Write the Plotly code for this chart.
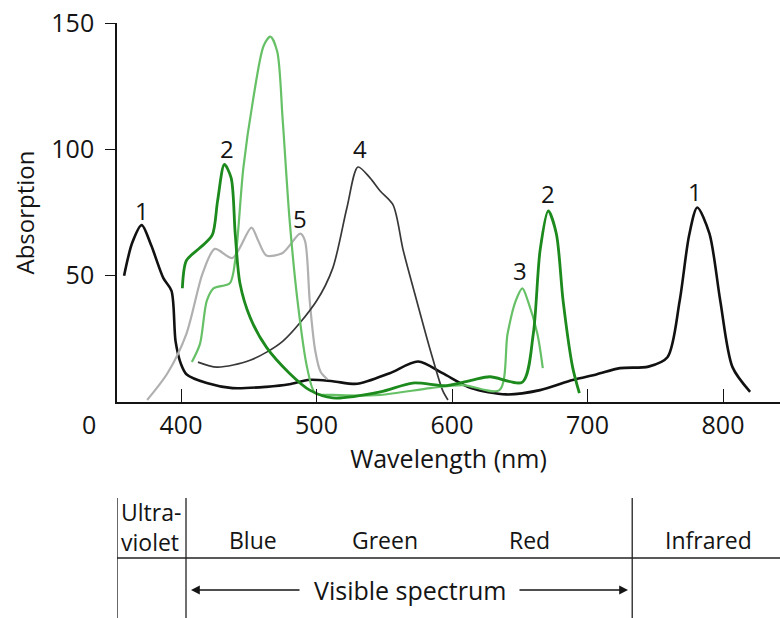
import plotly.graph_objects as go

# ---------------- data ----------------
c1_nm = [358, 364, 371, 378, 387, 393, 396, 400, 404, 419, 438, 463, 480, 495, 512, 530, 554, 575, 593, 614, 640, 665, 689, 707, 724, 745, 759, 768, 775, 781, 790, 798, 807, 820]
c1_ab = [50, 63, 70, 62, 49, 44, 24, 15, 11, 7.5, 5.5, 6, 7, 8.8, 8.2, 7.2, 11.4, 16, 11.4, 5.5, 3, 4.7, 8.7, 11, 13.4, 14, 17.7, 40, 66, 77, 66.6, 40, 13.8, 4]

c2_nm = [401, 404, 414, 423, 427, 432, 437, 440, 443.5, 451, 463, 480, 495, 512, 547, 571, 596, 615, 628, 652, 660, 665, 671, 677, 682, 689, 694]
c2_ab = [45, 56, 61, 66, 79.6, 94, 88.7, 66.6, 47, 33.5, 21.7, 11.4, 4.7, 1.6, 4, 7.5, 6.5, 8.7, 10, 7.9, 27, 60, 75.6, 66.6, 40, 13.8, 3.5]

c3_nm = [408, 414, 419, 424, 436, 440, 446, 453, 461, 466, 471, 475, 480, 486, 493, 499, 512, 547, 584, 608, 635, 641, 647, 652, 656, 663, 667]
c3_ab = [15.8, 23, 40, 45, 47, 56, 92.6, 119, 141, 144.6, 138.7, 112, 73, 40, 13.8, 3.5, 2.8, 2.8, 5.5, 6.7, 4.7, 27, 40, 45, 40, 27, 13.4]

c4_nm = [412.5, 426.6, 451, 475, 500, 512, 522.5, 530.6, 539.5, 547, 556.5, 564, 574, 584, 593, 597]
c4_ab = [15.8, 13.8, 16.5, 24, 40, 53, 77, 93, 88.7, 83.5, 78, 60, 40, 20.5, 4.7, 0.8]

c5_nm = [375, 390, 404, 416, 425, 438, 452, 457, 463, 475, 488, 491.5, 495, 499, 503, 508]
c5_ab = [0.8, 11.4, 27, 51, 60.6, 57, 69, 63.8, 58, 59, 66.6, 63.8, 40, 20.5, 12, 9]

curve_labels = ["1", "2", "3", "4", "5", "3", "2", "1"]
label_nm = [371, 434, 467, 532, 488, 650, 671, 779]
label_ab = [75.6, 100.5, 151, 100.5, 72.5, 52, 82.7, 83.5]

x_ticks = [400, 500, 600, 700, 800]
y_ticks = [50, 100, 150]
region_names = ["Blue", "Green", "Red", "Infrared"]
region_nm = [453, 550.5, 657, 789]
uv_label = "Ultra-<br>violet"
region_bounds = [352.8, 403.7, 733]

# ---------------- layout helpers ----------------
# the page body margin is removed (post_script), so figure pixels == window pixels
W, H = 780, 618
AX_LEFT, AX_TOP, AX_BOTTOM, AX_RIGHT = 117, 23, 402, 780   # pixels of the plot area
plot_h = AX_BOTTOM - AX_TOP
plot_w = AX_RIGHT - AX_LEFT


def py(pix_y):
    """pixel row -> paper y"""
    return (AX_BOTTOM - pix_y) / plot_h


def px(pix_x):
    """pixel column -> paper x"""
    return (pix_x - AX_LEFT) / plot_w


def nm(pix_x):
    """pixel column -> wavelength"""
    return 400 + (pix_x - 181) * 0.738


FONT = "Open Sans"
INK = "#141414"

fig = go.Figure()
curves = [
    (c1_nm, c1_ab, "#111111", 2.6),
    (c5_nm, c5_ab, "#b0b0b0", 2.2),
    (c4_nm, c4_ab, "#383838", 1.7),
    (c3_nm, c3_ab, "#66c066", 2.2),
    (c2_nm, c2_ab, "#1c8a1c", 2.8),
]
for xs, ys, col, w in curves:
    fig.add_trace(go.Scatter(x=xs, y=ys, mode="lines",
                             line=dict(color=col, width=w, shape="spline", smoothing=0.8),
                             showlegend=False, hoverinfo="skip"))

for t, x, y in zip(curve_labels, label_nm, label_ab):
    fig.add_annotation(x=x, y=y, text=t, showarrow=False, xanchor="center", yanchor="middle",
                       font=dict(family=FONT, size=24, color=INK))

# origin "0"
fig.add_annotation(x=px(89), y=py(424), xref="paper", yref="paper", text="0", showarrow=False,
                   xanchor="center", yanchor="middle",
                   font=dict(family=FONT, size=25, color=INK))

# spectrum table
line_style = dict(color="#222", width=1.3)
for b in region_bounds:
    fig.add_shape(type="line", xref="x", yref="paper", x0=b, x1=b, y0=py(498), y1=py(620), line=line_style)
fig.add_shape(type="line", xref="paper", yref="paper", x0=px(117), x1=px(790), y0=py(558), y1=py(558), line=line_style)

for t, x in zip(region_names, region_nm):
    fig.add_annotation(x=x, y=py(540), xref="x", yref="paper", text=t,
                       showarrow=False, xanchor="center", yanchor="middle",
                       font=dict(family=FONT, size=23, color=INK))
fig.add_annotation(x=px(119), y=py(527), xref="paper", yref="paper", text=uv_label,
                   showarrow=False, xanchor="left", yanchor="middle", align="left",
                   font=dict(family=FONT, size=23, color=INK))

fig.add_annotation(x=px(410), y=py(590), xref="paper", yref="paper", text="Visible spectrum",
                   showarrow=False, xanchor="center", yanchor="middle",
                   font=dict(family=FONT, size=25, color=INK))
fig.add_annotation(x=px(191), y=py(590), xref="paper", yref="paper", text="", showarrow=True,
                   ax=110, ay=0, arrowhead=2, arrowsize=1.1, arrowwidth=1.6, arrowcolor=INK)
fig.add_annotation(x=px(628), y=py(590), xref="paper", yref="paper", text="", showarrow=True,
                   ax=-110, ay=0, arrowhead=2, arrowsize=1.1, arrowwidth=1.6, arrowcolor=INK)

fig.update_layout(
    width=W, height=H,
    margin=dict(l=AX_LEFT, r=W - AX_RIGHT, t=AX_TOP, b=H - AX_BOTTOM),
    paper_bgcolor="white", plot_bgcolor="white",
    font=dict(family=FONT, size=25, color=INK),
    xaxis=dict(range=[nm(117), nm(780)], tickvals=x_ticks, ticks="inside", ticklen=13,
               tickwidth=1.3, tickcolor=INK, showline=True, linecolor=INK, linewidth=1.6,
               showgrid=False, zeroline=False, ticklabelstandoff=0, automargin=False,
               title=dict(text="Wavelength (nm)", standoff=4, font=dict(size=25))),
    yaxis=dict(range=[0, 150], tickvals=y_ticks, ticks="outside", ticklen=10,
               tickwidth=1.3, tickcolor=INK, showline=True, linecolor=INK, linewidth=1.6,
               showgrid=False, zeroline=False, ticklabelstandoff=6, automargin=False,
               ticklabeloverflow="allow",
               title=dict(text="Absorption", standoff=10, font=dict(size=24))),
)

fig.write_html("out.html", config={"displayModeBar": False},
               post_script="document.body.style.margin='0';document.body.style.overflow='hidden';")
